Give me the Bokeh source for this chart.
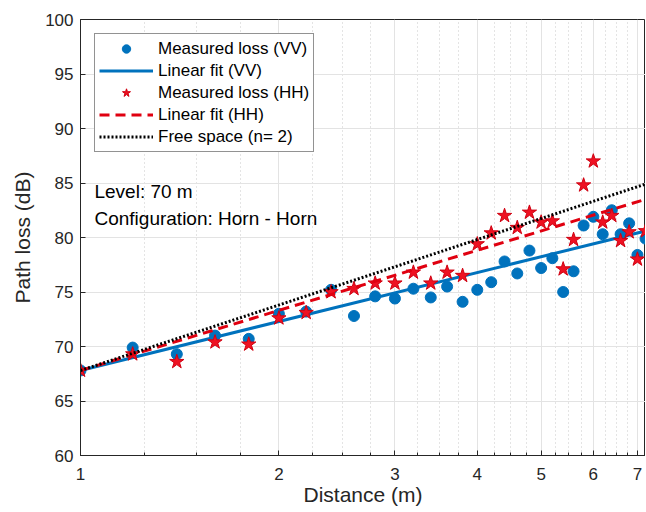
from bokeh.plotting import figure
from bokeh.models import (Range1d, FixedTicker, Legend, LegendItem, Label,
                          ColumnDataSource, BasicTickFormatter)
from bokeh.embed import file_html
from bokeh.resources import INLINE

# ---------------- data ----------------
distance = [1.0, 1.2, 1.4, 1.6, 1.8, 2.0, 2.2, 2.4, 2.6, 2.8, 3.0, 3.2, 3.4, 3.6, 3.8, 4.0,
            4.2, 4.4, 4.6, 4.8, 5.0, 5.2, 5.4, 5.6, 5.8, 6.0, 6.2, 6.4, 6.6, 6.8, 7.0, 7.2]
loss_vv = [67.8, 69.9, 69.3, 71.0, 70.7, 73.0, 73.2, 75.2, 72.8, 74.6, 74.4, 75.3, 74.5, 75.5,
           74.1, 75.2, 75.9, 77.8, 76.7, 78.8, 77.2, 78.1, 75.0, 76.9, 81.1, 81.9, 80.3, 82.5,
           80.3, 81.3, 78.4, 79.9]
loss_hh = [67.8, 69.3, 68.6, 70.4, 70.2, 72.6, 73.1, 75.0, 75.3, 75.8, 75.8, 76.8, 75.8, 76.8,
           76.5, 79.4, 80.4, 82.0, 80.9, 82.3, 81.4, 81.5, 77.1, 79.8, 84.8, 87.0, 81.4, 82.0,
           79.7, 80.5, 78.0, 80.6]
fit_distance = [1.0, 7.2]
fit_vv = [67.8, 80.6]
fit_hh = [67.8, 83.5]
free_space = [67.8, 84.9]

x_ticks = [1, 2, 3, 4, 5, 6, 7]
x_minor_ticks = [1.25, 1.5, 1.75, 2.25, 2.5, 2.75, 3.25, 3.5, 3.75, 4.25, 4.5, 4.75,
                 5.25, 5.5, 5.75, 6.25, 6.5, 6.75]
y_ticks = [60, 65, 70, 75, 80, 85, 90, 95, 100]

legend_labels = ["Measured loss (VV)", "Linear fit (VV)", "Measured loss (HH)",
                 "Linear fit (HH)", "Free space (n= 2)"]
annotations = ["Level: 70 m", "Configuration: Horn - Horn"]

# ---------------- figure ----------------
FONT = "Liberation Sans"
AX = "#262626"

p = figure(width=645, height=511, x_axis_type="log",
           x_range=Range1d(1, 7.2), y_range=Range1d(60, 100),
           output_backend="svg", toolbar_location=None,
           min_border_left=80, min_border_top=19, min_border_right=0, min_border_bottom=56,
           background_fill_color="white", border_fill_color="white")
p.outline_line_color = AX
p.outline_line_width = 1

src = ColumnDataSource(dict(d=distance, vv=loss_vv, hh=loss_hh))
fit = ColumnDataSource(dict(d=fit_distance, vv=fit_vv, hh=fit_hh, fs=free_space))

r_vv = p.scatter("d", "vv", source=src, marker="circle", size=11,
                 fill_color="#0072BD", line_color="#0072BD")
r_vvfit = p.line("d", "vv", source=fit, line_color="#0072BD", line_width=3)
r_hh = p.scatter("d", "hh", source=src, marker="star", size=15,
                 fill_color="#EE1122", line_color="#D00010", line_width=1)
r_hhfit = p.line("d", "hh", source=fit, line_color="#E00010", line_width=3, line_dash="10 6")
r_fs = p.line("d", "fs", source=fit, line_color="black", line_width=3, line_dash="2 2")

# axes
xa = p.xaxis[0]
xa.ticker = FixedTicker(ticks=x_ticks, minor_ticks=x_minor_ticks)
xa.formatter = BasicTickFormatter()
ya = p.yaxis[0]
ya.ticker = FixedTicker(ticks=y_ticks)

for ax in (xa, ya):
    ax.axis_line_color = AX
    ax.major_tick_line_color = AX
    ax.minor_tick_line_color = AX
    ax.major_tick_in = 5
    ax.major_tick_out = 0
    ax.minor_tick_in = 3
    ax.minor_tick_out = 0
    ax.major_label_text_font = FONT
    ax.major_label_text_font_size = "17px"
    ax.major_label_text_color = AX
    ax.axis_label_text_font = FONT
    ax.axis_label_text_font_size = "21px"
    ax.axis_label_text_font_style = "normal"
    ax.axis_label_text_color = AX
ya.minor_tick_line_color = None
xa.axis_label = "Distance (m)"
ya.axis_label = "Path loss (dB)"
xa.major_label_standoff = 12
ya.major_label_standoff = 7
xa.axis_label_standoff = 0
ya.axis_label_standoff = 8

# grids
p.xgrid.grid_line_color = "#e3e3e3"
p.xgrid.minor_grid_line_color = "#c8c8c8"
p.xgrid.minor_grid_line_dash = "1 3"
p.ygrid.grid_line_color = "#e3e3e3"

# legend
legend = Legend(items=[
    LegendItem(label=legend_labels[0], renderers=[r_vv]),
    LegendItem(label=legend_labels[1], renderers=[r_vvfit]),
    LegendItem(label=legend_labels[2], renderers=[r_hh]),
    LegendItem(label=legend_labels[3], renderers=[r_hhfit]),
    LegendItem(label=legend_labels[4], renderers=[r_fs]),
], location="top_left")
legend.margin = 14
legend.padding = 4
legend.spacing = 1
legend.glyph_width = 54
legend.glyph_height = 21
legend.label_height = 21
legend.label_standoff = 5
legend.label_text_font = FONT
legend.label_text_font_size = "17px"
legend.label_text_color = "black"
legend.border_line_color = AX
legend.border_line_width = 1
legend.background_fill_color = "white"
legend.background_fill_alpha = 1
p.add_layout(legend, "center")

# annotations
p.add_layout(Label(x=1.05, y=84.2, text=annotations[0], text_baseline="middle",
                   text_font=FONT, text_font_size="19px", text_color="black"))
p.add_layout(Label(x=1.05, y=81.7, text=annotations[1], text_baseline="middle",
                   text_font=FONT, text_font_size="19px", text_color="black"))

open("out.html", "w").write(file_html(p, INLINE))
